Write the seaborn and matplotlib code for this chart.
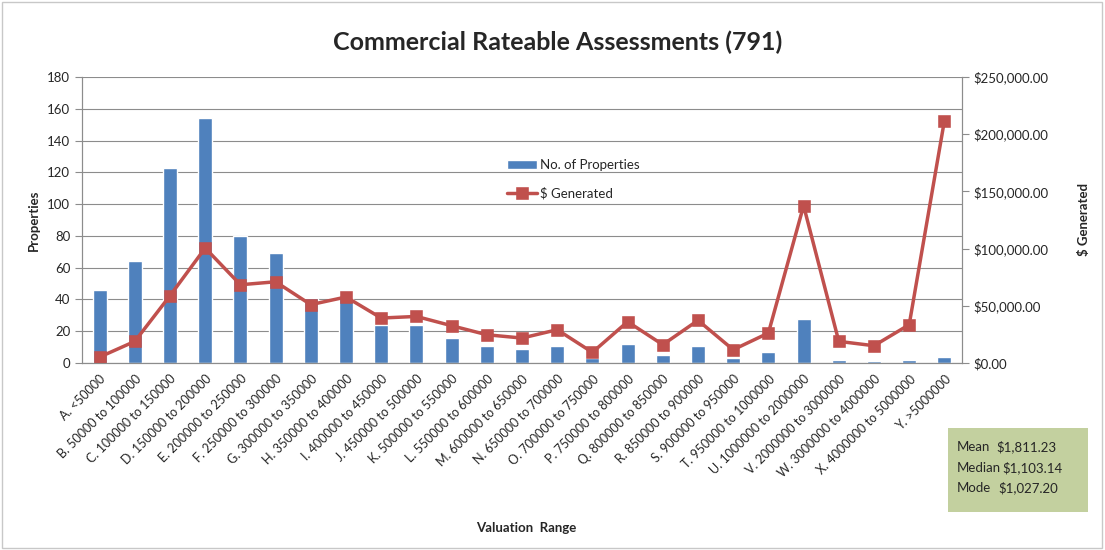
import pandas as pd
import seaborn as sns
import matplotlib.pyplot as plt
import matplotlib.ticker as mticker
from matplotlib.patches import Rectangle

# Data
categories = ['A. <50000', 'B. 50000 to 100000', 'C. 100000 to 150000', 'D. 150000 to 200000',
              'E. 200000 to 250000', 'F. 250000 to 300000', 'G. 300000 to 350000',
              'H. 350000 to 400000', 'I. 400000 to 450000', 'J. 450000 to 500000',
              'K. 500000 to 550000', 'L. 550000 to 600000', 'M. 600000 to 650000',
              'N. 650000 to 700000', 'O. 700000 to 750000', 'P. 750000 to 800000',
              'Q. 800000 to 850000', 'R. 850000 to 900000', 'S. 900000 to 950000',
              'T. 950000 to 1000000', 'U. 1000000 to 2000000', 'V. 2000000 to 3000000',
              'W. 3000000 to 4000000', 'X. 4000000 to 5000000', 'Y. >5000000']
properties = [46, 64, 123, 154, 80, 69, 41, 41, 24, 24, 16, 11, 9, 11, 3, 12, 5, 11, 3, 7, 28, 2, 1, 2, 4]
generated = [5200, 18900, 58800, 100500, 68400, 71000, 51000, 57700, 39300, 40700,
             32600, 24700, 21800, 29100, 9300, 36100, 16000, 37300, 11600, 26200,
             137500, 18900, 15100, 33500, 211800]
stat_labels = ['Mean', 'Median', 'Mode']
stat_values = ['$1,811.23', '$1,103.14', '$1,027.20']

df = pd.DataFrame({'range': categories, 'props': properties, 'gen': generated})

sns.set_style('white')
plt.rcParams['font.family'] = ['Lato', 'DejaVu Sans']

BLUE = '#4F81BD'
RED = '#C0504D'
GRID = '#8c8c8c'

fig = plt.figure(figsize=(11.05, 5.5), dpi=100)
ax = fig.add_axes([82 / 1105, 1 - 363 / 550, 880 / 1105, 286 / 550])
ax2 = ax.twinx()

sns.barplot(data=df, x='range', y='props', color=BLUE, width=0.4, saturation=1,
            ax=ax, label='No. of Properties', zorder=2)
sns.pointplot(data=df, x='range', y='gen', color=RED, markers='s', linestyles='-',
              ax=ax2, label='$ Generated', markersize=7, linewidth=2.5)

n = len(categories)
ax.set_xlim(-0.5, n - 0.5)
ax.set_ylim(0, 180)
ax.yaxis.set_major_locator(mticker.MultipleLocator(20))
ax2.set_ylim(0, 250000)
ax2.yaxis.set_major_locator(mticker.MultipleLocator(50000))
ax2.yaxis.set_major_formatter(mticker.FuncFormatter(lambda v, p: f'${v:,.2f}'))

ax.yaxis.grid(True, color=GRID, linewidth=0.8)
ax.set_axisbelow(True)

# x ticks: labels at centres, tick marks at boundaries
ax.set_xticks(range(n))
ax.set_xticklabels(categories, rotation=45, ha='right', rotation_mode='anchor', fontsize=9)
ax.set_xticks([i - 0.5 for i in range(n + 1)], minor=True)
ax.tick_params(axis='x', which='major', length=0, pad=7)
ax.tick_params(axis='x', which='minor', length=5, color=GRID, direction='out')
ax.tick_params(axis='y', length=5, color=GRID, direction='out', labelsize=9.5, left=True)
ax2.tick_params(axis='y', length=5, color=GRID, direction='out', labelsize=9.5, right=True)

for a in (ax, ax2):
    for s in a.spines.values():
        s.set_color(GRID)
    a.spines['top'].set_visible(False)

ax.set_xlabel('Valuation  Range', fontsize=9.5, fontweight='bold')
ax.xaxis.set_label_coords(0.505, -0.555)
ax.set_ylabel('Properties', fontsize=9.5, fontweight='bold')
ax.yaxis.set_label_coords(-0.048, 0.5)
ax2.set_ylabel('$ Generated', fontsize=9.5, fontweight='bold')
ax2.yaxis.set_label_coords(1.132, 0.5)

# combined legend
h1, l1 = ax.get_legend_handles_labels()
h2, l2 = ax2.get_legend_handles_labels()
if ax2.get_legend():
    ax2.get_legend().remove()
ax.legend(h1 + h2, l1 + l2, loc='upper left', bbox_to_anchor=(0.47, 0.755), frameon=False,
          fontsize=9.5, labelspacing=1.2, handlelength=2.2, handletextpad=0.3)

fig.suptitle('Commercial Rateable Assessments (791)', x=0.505, y=0.945, fontsize=18, fontweight='bold')

# stats box
fig.patches.append(Rectangle((948 / 1105, 1 - 512 / 550), 140 / 1105, 84 / 550,
                             transform=fig.transFigure, facecolor='#C3D09F', edgecolor='none'))
value_x = [996, 1002, 998]
for i, (lab, val) in enumerate(zip(stat_labels, stat_values)):
    y = 1 - (447 + i * 20.5) / 550
    fig.text(957 / 1105, y, lab, fontsize=9.5, va='center')
    fig.text(value_x[i] / 1105, y, val, fontsize=9.5, va='center')

fig.patches.append(Rectangle((0.002, 0.004), 0.995, 0.992, transform=fig.transFigure,
                             facecolor='none', edgecolor='#c8c8c8', linewidth=1))

fig.savefig('out.png', dpi=100)
